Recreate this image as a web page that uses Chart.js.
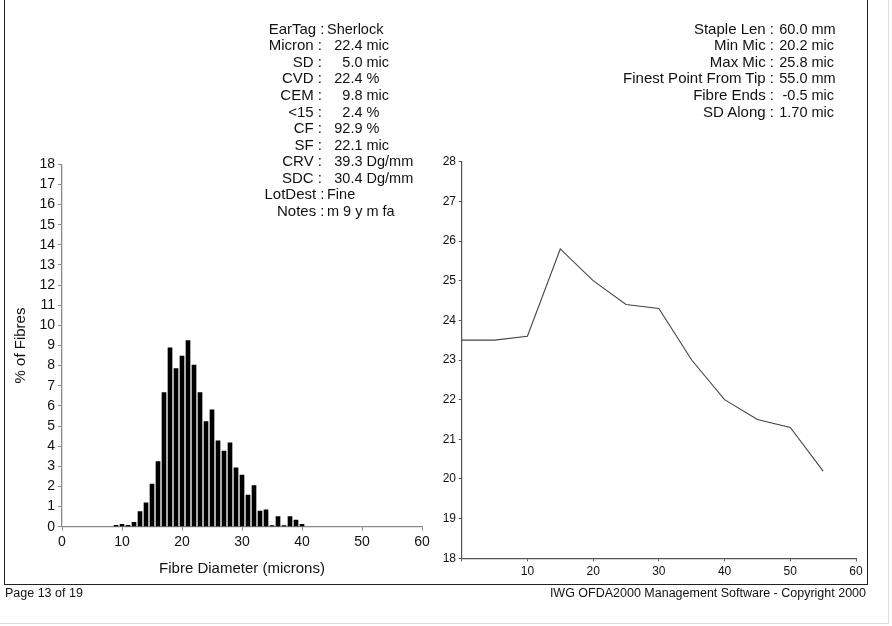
<!DOCTYPE html>
<html>
<head>
<meta charset="utf-8">
<script src="https://cdn.jsdelivr.net/npm/chart.js@4.4.1/dist/chart.umd.min.js"></script>
<style>
  html, body { margin:0; padding:0; background:#fff; }
  body { width:892px; height:626px; position:relative; overflow:hidden;
         font-family:"Liberation Sans", Arial, sans-serif; color:#111; }
  canvas { position:absolute; }
  .t { position:absolute; white-space:pre; line-height:16.5px; height:16.5px; }
  .r { text-align:right; }
</style>
</head>
<body>
<div id="page" style="position:absolute;left:0;top:0;width:888px;height:623px;border-right:1px solid #dcdcdc;border-bottom:1px solid #dcdcdc;"></div>
<div id="frame" style="position:absolute;left:4px;top:-5px;width:862px;height:589px;border:1.5px solid #222;border-top:none;"></div>
<canvas id="hist" style="left:0;top:0;" width="440" height="587"></canvas>
<canvas id="along" style="left:440px;top:0;" width="430" height="588"></canvas>
<div id="texts"></div>
<script>
// ---- Histogram data (fibre diameter distribution) ----
const diameters = [9,10,11,12,13,14,15,16,17,18,19,20,21,22,23,24,25,26,27,28,29,30,31,32,33,34,35,36,37,38,39,40];
const pctFibres = [0.07,0.12,0.07,0.22,0.75,1.18,2.12,3.23,6.66,8.89,7.85,8.48,9.24,8.03,6.66,5.22,5.81,4.27,3.76,4.17,2.93,2.57,1.57,2.04,0.78,0.84,0.05,0.50,0.05,0.50,0.33,0.12];

// ---- Profile along staple ----
const positionFromTip = [0,5,10,15,20,25,30,35,40,45,50,55];
const micronAlong = [23.5,23.5,23.6,25.8,25.0,24.4,24.3,23.0,22.0,21.5,21.3,20.2];

// ---- Axis labels ----
const histXTitle = 'Fibre Diameter (microns)';
const histYTitle = '% of Fibres';

// ---- Summary statistics ----
const leftLabels = ['EarTag','Micron','SD','CVD','CEM','<15','CF','SF','CRV','SDC','LotDest','Notes'];
const leftValues = ['Sherlock','22.4','5.0','22.4','9.8','2.4','92.9','22.1','39.3','30.4','Fine','m 9 y m fa'];
const leftUnits  = ['','mic','mic','%','mic','%','%','mic','Dg/mm','Dg/mm','',''];
const rightLabels = ['Staple Len','Min Mic','Max Mic','Finest Point From Tip','Fibre Ends','SD Along'];
const rightValues = ['60.0','20.2','25.8','55.0','-0.5','1.70'];
const rightUnits  = ['mm','mic','mic','mm','mic','mic'];
const footerLeft = 'Page 13 of 19';
const footerRight = 'IWG OFDA2000 Management Software - Copyright 2000';

Chart.defaults.font.family = '"Liberation Sans", Arial, sans-serif';
Chart.defaults.color = '#111';

// ---- Text blocks ----
const texts = document.getElementById('texts');
function addText(str, x, cy, align, size) {
  const d = document.createElement('div');
  d.className = 't' + (align === 'right' ? ' r' : '');
  d.textContent = str;
  d.style.fontSize = (size || 15) + 'px';
  d.style.top = (cy - 8.25) + 'px';
  if (align === 'right') { d.style.left = (x - 600) + 'px'; d.style.width = '600px'; }
  else { d.style.left = x + 'px'; }
  texts.appendChild(d);
}
function block(labels, values, units, colonX, numRight, y0) {
  labels.forEach((lab, i) => {
    const cy = y0 + i * 16.55;
    if (units[i] === '') {
      addText(lab + ' :', colonX + 2.5, cy, 'right');
      addText(values[i], colonX + 5, cy, 'left', 14.5);
    } else {
      addText(lab + ' :', colonX, cy, 'right');
      addText(values[i], numRight, cy, 'right', 14.5);
      addText(units[i], numRight + 4, cy, 'left', 14.5);
    }
  });
}
block(leftLabels, leftValues, leftUnits, 322, 362.5, 29);
block(rightLabels, rightValues, rightUnits, 774, 807.5, 29);
addText(footerLeft, 5, 593, 'left', 12.5);
addText(footerRight, 866, 593, 'right', 12.5);

// ---- Histogram ----
new Chart(document.getElementById('hist'), {
  type: 'bar',
  data: {
    datasets: [{
      data: diameters.map((d, i) => ({ x: d, y: pctFibres[i] })),
      backgroundColor: '#000',
      borderWidth: 0,
      barThickness: 4
    }]
  },
  options: {
    responsive: false,
    animation: false,
    layout: { padding: { top: 164.3, right: 18, left: 0, bottom: 0 } },
    plugins: { legend: { display: false }, tooltip: { enabled: false } },
    scales: {
      x: {
        type: 'linear', min: 0, max: 60, offset: false,
        ticks: { stepSize: 10, font: { size: 14 }, color: '#111', padding: 3.4, maxRotation: 0 },
        grid: { display: true, offset: false, drawOnChartArea: false, drawTicks: true, tickLength: 4, color: '#8a8a8a' },
        border: { display: true, color: '#8a8a8a', width: 1.3 },
        title: { display: true, text: histXTitle, font: { size: 15 }, color: '#111', padding: { top: 0, bottom: 9 } },
        afterFit: s => { s.height = 60.3; }
      },
      y: {
        min: 0, max: 18,
        ticks: { stepSize: 1, font: { size: 14 }, color: '#111', padding: 3 },
        grid: { display: true, drawOnChartArea: false, drawTicks: true, tickLength: 4, color: '#8a8a8a' },
        border: { display: true, color: '#8a8a8a', width: 1.3 },
        title: { display: true, text: histYTitle, font: { size: 15 }, color: '#111', padding: { top: 12, bottom: 0 } },
        afterFit: s => { s.width = 62; }
      }
    }
  }
});

// ---- Micron along staple ----
new Chart(document.getElementById('along'), {
  type: 'line',
  data: {
    datasets: [{
      data: positionFromTip.map((p, i) => ({ x: p, y: micronAlong[i] })),
      borderColor: '#444',
      borderWidth: 1.1,
      pointRadius: 0,
      tension: 0,
      fill: false
    }]
  },
  options: {
    responsive: false,
    animation: false,
    layout: { padding: { top: 161.7, right: 14, left: 0, bottom: 0 } },
    plugins: { legend: { display: false }, tooltip: { enabled: false } },
    scales: {
      x: {
        type: 'linear', min: 0, max: 60,
        ticks: { stepSize: 10, font: { size: 12 }, color: '#111', padding: 3.5, maxRotation: 0,
                 callback: v => (v === 0 ? '' : v) },
        grid: { display: true, drawOnChartArea: false, drawTicks: true, tickLength: 3, color: '#555' },
        border: { display: true, color: '#555', width: 1.2 },
        afterFit: s => { s.height = 29.7; }
      },
      y: {
        min: 18, max: 28,
        ticks: { stepSize: 1, font: { size: 12 }, color: '#111', padding: 2.7 },
        grid: { display: true, drawOnChartArea: false, drawTicks: true, tickLength: 3, color: '#555' },
        border: { display: true, color: '#555', width: 1.2 },
        afterFit: s => { s.width = 21.7; }
      }
    }
  }
});
</script>
</body>
</html>
